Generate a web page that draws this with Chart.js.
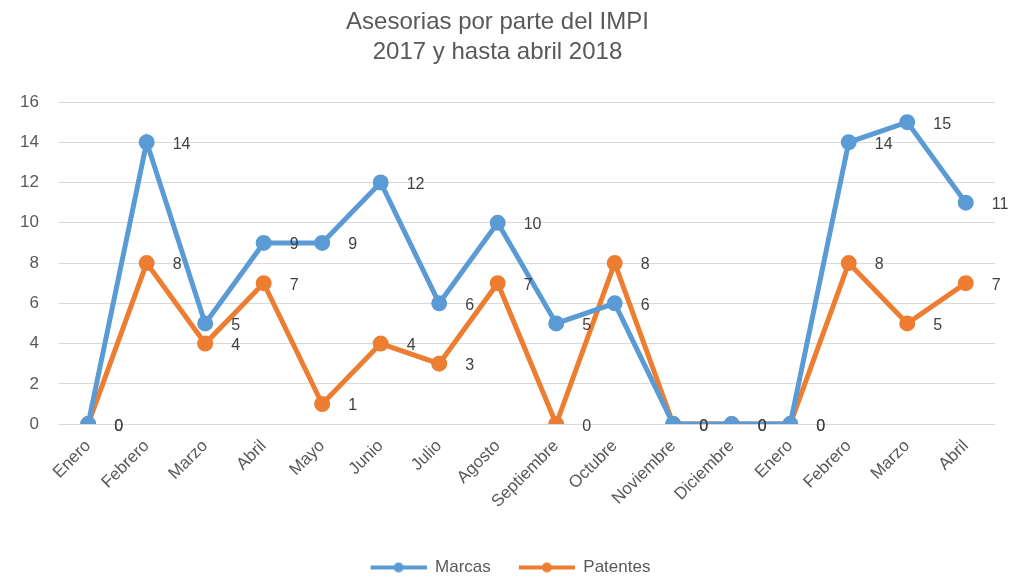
<!DOCTYPE html>
<html>
<head>
  <title>Asesorias IMPI</title>
  <script src="https://cdn.jsdelivr.net/npm/chart.js"></script>
  <style>
    body { margin: 0; background: #fff; }
    #wrap { width: 1011px; height: 577px; }
  </style>
</head>
<body>
  <div id="wrap"><canvas id="chart"></canvas></div>
  <script>
    const months = ['Enero', 'Febrero', 'Marzo', 'Abril', 'Mayo', 'Junio', 'Julio', 'Agosto',
      'Septiembre', 'Octubre', 'Noviembre', 'Diciembre', 'Enero', 'Febrero', 'Marzo', 'Abril'];
    const marcas = [0, 14, 5, 9, 9, 12, 6, 10, 5, 6, 0, 0, 0, 14, 15, 11];
    const patentes = [0, 8, 4, 7, 1, 4, 3, 7, 0, 8, 0, 0, 0, 8, 5, 7];

    const FONT = "'Liberation Sans', Arial, sans-serif";
    const BLUE = '#5B9BD5';
    const ORANGE = '#ED7D31';
    const LEAD = 26;

    // legend marker: blank gap, then a short line with a dot in the middle
    function legendMarker(color) {
      const c = document.createElement('canvas');
      c.width = 56 + LEAD; c.height = 14;
      const g = c.getContext('2d');
      g.strokeStyle = color;
      g.lineWidth = 4;
      g.beginPath(); g.moveTo(LEAD, 7); g.lineTo(LEAD + 56, 7); g.stroke();
      g.fillStyle = color;
      g.beginPath(); g.arc(LEAD + 28, 7, 5, 0, Math.PI * 2); g.fill();
      return c;
    }

    // value labels drawn to the right of each point
    const valueLabels = {
      id: 'valueLabels',
      afterDatasetsDraw(chart) {
        const ctx = chart.ctx;
        ctx.save();
        ctx.font = '16px ' + FONT;
        ctx.fillStyle = '#404040';
        ctx.textBaseline = 'middle';
        ctx.textAlign = 'left';
        [1, 0].forEach(i => {
          const meta = chart.getDatasetMeta(i);
          meta.data.forEach((pt, j) => {
            const v = chart.data.datasets[i].data[j];
            ctx.fillText(String(v), pt.x + 26, pt.y + 2);
          });
        });
        ctx.restore();
      }
    };

    // nudge the legend a little lower
    const legendShift = {
      id: 'legendShift',
      afterLayout(chart) {
        chart.legend.top += 9;
        chart.legend.bottom += 9;
      }
    };

    new Chart(document.getElementById('chart'), {
      type: 'line',
      data: {
        labels: months,
        datasets: [
          {
            label: 'Marcas',
            data: marcas,
            borderColor: BLUE,
            backgroundColor: BLUE,
            borderWidth: 5,
            pointRadius: 5.5,
            pointHoverRadius: 5.5,
            pointStyle: 'circle',
            tension: 0
          },
          {
            label: 'Patentes',
            data: patentes,
            borderColor: ORANGE,
            backgroundColor: ORANGE,
            borderWidth: 5,
            pointRadius: 5.5,
            pointHoverRadius: 5.5,
            pointStyle: 'circle',
            tension: 0
          }
        ]
      },
      options: {
        responsive: true,
        maintainAspectRatio: false,
        animation: false,
        layout: { padding: { left: 0, right: 16, top: 2, bottom: 0 } },
        plugins: {
          title: {
            display: true,
            text: ['Asesorias por parte del IMPI', '2017 y hasta abril 2018'],
            color: '#595959',
            font: { family: FONT, size: 24, weight: 'normal', lineHeight: 1.25 },
            padding: { top: 5, bottom: 35 }
          },
          legend: {
            position: 'bottom',
            labels: {
              color: '#595959',
              font: { family: FONT, size: 17 },
              usePointStyle: true,
              pointStyleWidth: 56 + LEAD,
              padding: 2,
              generateLabels(chart) {
                return chart.data.datasets.map((ds, i) => ({
                  text: ds.label,
                  fontColor: '#595959',
                  pointStyle: legendMarker(ds.borderColor),
                  datasetIndex: i,
                  hidden: false,
                  lineWidth: 0
                }));
              }
            }
          },
          tooltip: { enabled: false }
        },
        scales: {
          x: {
            offset: true,
            grid: { display: false },
            border: { display: false },
            ticks: {
              color: '#595959',
              font: { family: FONT, size: 17 },
              maxRotation: 45,
              minRotation: 45,
              autoSkip: false,
              padding: 4
            },
            afterFit(scale) { scale.height += 32; }
          },
          y: {
            min: 0,
            max: 16,
            ticks: {
              stepSize: 2,
              color: '#595959',
              font: { family: FONT, size: 17 },
              padding: 20
            },
            grid: { color: '#d9d9d9', drawTicks: false },
            border: { display: false }
          }
        }
      },
      plugins: [valueLabels, legendShift]
    });
  </script>
</body>
</html>
